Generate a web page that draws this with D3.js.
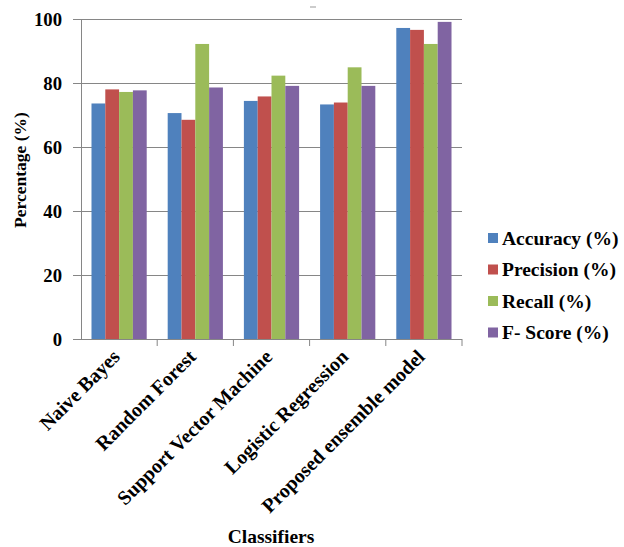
<!DOCTYPE html>
<html>
<head>
<meta charset="utf-8">
<script src="https://cdn.jsdelivr.net/npm/d3@7"></script>
<style>
  html, body { margin: 0; padding: 0; background: #fff; }
  svg text { font-family: "Liberation Serif", "Times New Roman", serif; font-weight: bold; fill: #000; }
</style>
</head>
<body>
<svg id="chart" width="624" height="547"></svg>
<script>
// Classifier comparison data
const classifiers = ["Naive Bayes", "Random Forest", "Support Vector Machine", "Logistic Regression", "Proposed ensemble model"];
const seriesNames = ["Accuracy (%)", "Precision (%)", "Recall (%)", "F- Score (%)"];
const accuracy  = [73.6, 70.6, 74.4, 73.3, 97.2];
const precision = [78.0, 68.5, 75.8, 73.9, 96.6];
const recall    = [77.2, 92.2, 82.3, 84.9, 92.2];
const fscore    = [77.7, 78.6, 79.1, 79.1, 99.1];
const yTicks = [0, 20, 40, 60, 80, 100];
const colors = ["#4F81BD", "#C0504D", "#9BBB59", "#8064A2"];

const seriesValues = [accuracy, precision, recall, fscore];

const svg = d3.select("#chart");
const plot = { left: 81, right: 462, top: 19, bottom: 339 };

const x = d3.scaleBand().domain(classifiers).range([plot.left, plot.right]).paddingInner(0).paddingOuter(0);
const x1 = d3.scaleBand().domain(seriesNames).range([0, x.bandwidth()]).paddingOuter(0.76).paddingInner(0);
const y = d3.scaleLinear().domain([0, 100]).range([plot.bottom, plot.top]);

const axisColor = "#868686";

// horizontal gridlines
svg.append("g").selectAll("line").data(yTicks.filter(d => d > 0)).join("line")
  .attr("x1", plot.left).attr("x2", plot.right)
  .attr("y1", d => y(d)).attr("y2", d => y(d))
  .attr("stroke", axisColor).attr("stroke-width", 1).attr("shape-rendering", "crispEdges");

// bars
const groups = svg.append("g").selectAll("g").data(classifiers).join("g")
  .attr("transform", d => `translate(${x(d)},0)`);
groups.selectAll("rect").data((c, i) => seriesNames.map((s, j) => ({ s, v: seriesValues[j][i], j })))
  .join("rect")
  .attr("x", d => x1(d.s)).attr("width", x1.bandwidth())
  .attr("y", d => y(d.v)).attr("height", d => y(0) - y(d.v))
  .attr("fill", d => colors[d.j]);

// y axis
const yAxis = svg.append("g").attr("transform", `translate(${plot.left},0)`)
  .call(d3.axisLeft(y).tickValues(yTicks).tickSize(8).tickPadding(11));
yAxis.select(".domain").attr("stroke", axisColor);
yAxis.selectAll(".tick line").attr("stroke", axisColor);
yAxis.selectAll(".tick text").attr("font-size", 18.7).attr("dy", "0.34em").attr("fill", "#000");

// x axis with boundary ticks
const xAxisG = svg.append("g").attr("transform", `translate(0,${plot.bottom})`);
xAxisG.append("line").attr("x1", plot.left - 8).attr("x2", plot.right).attr("y1", 0).attr("y2", 0)
  .attr("stroke", axisColor).attr("shape-rendering", "crispEdges");
const bounds = classifiers.map(c => x(c) + x.bandwidth());
xAxisG.selectAll("line.tk").data(bounds).join("line").attr("class", "tk")
  .attr("x1", d => d).attr("x2", d => d).attr("y1", 0).attr("y2", 7)
  .attr("stroke", axisColor);

// rotated category labels
xAxisG.selectAll("text.cat").data(classifiers).join("text").attr("class", "cat")
  .attr("text-anchor", "end")
  .attr("font-size", 20)
  .attr("transform", d => `translate(${x(d) + x.bandwidth() / 2 + 2},${19}) rotate(-45)`)
  .text(d => d);

// axis titles
svg.append("text").attr("x", 271).attr("y", 543).attr("text-anchor", "middle").attr("font-size", 19.5).text("Classifiers");
svg.append("text").attr("transform", "translate(26,170) rotate(-90)").attr("text-anchor", "middle").attr("font-size", 17.5).text("Percentage (%)");

// small title placeholder mark
svg.append("line").attr("x1", 310).attr("x2", 316).attr("y1", 7).attr("y2", 7).attr("stroke", "#999");

// legend
const legend = svg.append("g").selectAll("g").data(seriesNames).join("g")
  .attr("transform", (d, i) => `translate(488,${238 + i * 31.5})`);
legend.append("rect").attr("x", 0).attr("y", -5).attr("width", 10).attr("height", 10).attr("fill", (d, i) => colors[i]);
legend.append("text").attr("x", 14).attr("y", 6.5).attr("font-size", 19.5).text(d => d);
</script>
</body>
</html>
